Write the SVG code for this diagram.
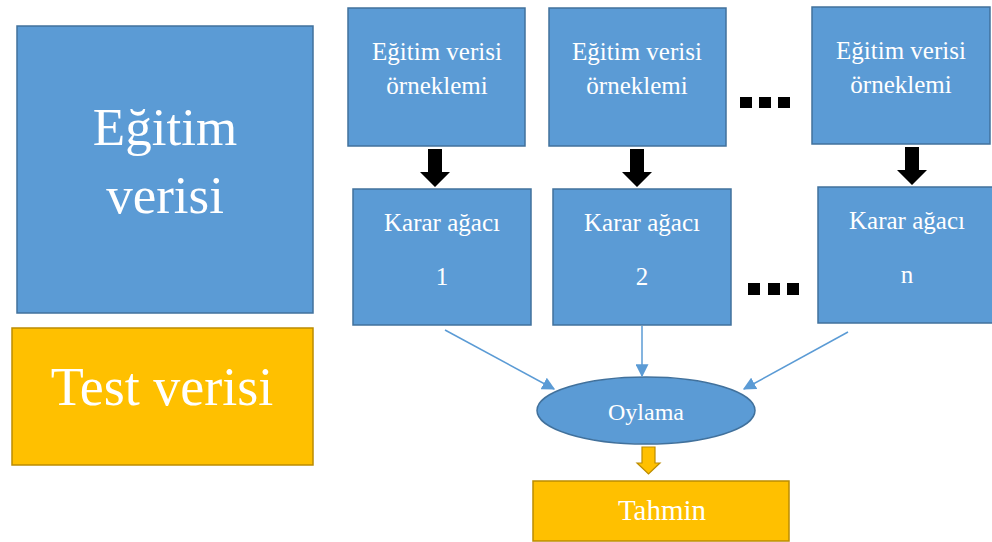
<svg xmlns="http://www.w3.org/2000/svg" width="992" height="542" viewBox="0 0 992 542">
  <style>
    .blue { fill: #5B9BD5; stroke: #41719C; stroke-width: 1.5; }
    .gold { fill: #FFC000; stroke: #BC8C00; stroke-width: 1.5; }
    .lbl { font-family: "Liberation Serif", "Times New Roman", serif; fill: #FFFFFF; text-anchor: middle; }
    .thin { stroke: #5B9BD5; stroke-width: 1.5; fill: none; marker-end: url(#tri); }
  </style>
  <defs>
    <marker id="tri" viewBox="0 0 10 10" refX="9" refY="5" markerWidth="13" markerHeight="13" markerUnits="userSpaceOnUse" orient="auto">
      <path d="M0,0 L10,5 L0,10 Z" fill="#5B9BD5"/>
    </marker>
  </defs>
  <rect width="992" height="542" fill="#FFFFFF"/>

  <!-- training data -->
  <g id="egitim-verisi">
    <rect class="blue" x="17" y="26" width="296" height="287"/>
    <text class="lbl" x="165" y="145" font-size="53">Eğitim</text>
    <text class="lbl" x="165" y="213" font-size="53">verisi</text>
  </g>

  <!-- test data -->
  <g id="test-verisi">
    <rect class="gold" x="12" y="328" width="301" height="137"/>
    <text class="lbl" x="162" y="405" font-size="54">Test verisi</text>
  </g>

  <!-- bootstrap samples -->
  <g id="ornek-1">
    <rect class="blue" x="348" y="8" width="177" height="138"/>
    <text class="lbl" x="437" y="60" font-size="25">Eğitim verisi</text>
    <text class="lbl" x="437" y="94" font-size="25">örneklemi</text>
  </g>
  <g id="ornek-2">
    <rect class="blue" x="549" y="8" width="177" height="138"/>
    <text class="lbl" x="637" y="60" font-size="25">Eğitim verisi</text>
    <text class="lbl" x="637" y="94" font-size="25">örneklemi</text>
  </g>
  <g id="ornek-n">
    <rect class="blue" x="812" y="7" width="178" height="137"/>
    <text class="lbl" x="901" y="59" font-size="25">Eğitim verisi</text>
    <text class="lbl" x="901" y="93" font-size="25">örneklemi</text>
  </g>

  <!-- decision trees -->
  <g id="agac-1">
    <rect class="blue" x="353" y="189" width="178" height="136"/>
    <text class="lbl" x="442" y="231" font-size="25">Karar ağacı</text>
    <text class="lbl" x="442" y="285" font-size="25">1</text>
  </g>
  <g id="agac-2">
    <rect class="blue" x="553" y="189" width="178" height="136"/>
    <text class="lbl" x="642" y="231" font-size="25">Karar ağacı</text>
    <text class="lbl" x="642" y="285" font-size="25">2</text>
  </g>
  <g id="agac-n">
    <rect class="blue" x="818" y="187" width="176" height="136"/>
    <text class="lbl" x="907" y="229" font-size="25">Karar ağacı</text>
    <text class="lbl" x="907" y="283" font-size="25">n</text>
  </g>

  <!-- ellipsis marks -->
  <g id="noktalar-ust" fill="#000000">
    <rect x="740" y="97" width="12" height="11"/>
    <rect x="759" y="97" width="12" height="11"/>
    <rect x="778" y="97" width="12" height="11"/>
  </g>
  <g id="noktalar-alt" fill="#000000">
    <rect x="748" y="283" width="12" height="12"/>
    <rect x="768" y="283" width="12" height="12"/>
    <rect x="787" y="283" width="12" height="12"/>
  </g>

  <!-- voting -->
  <g id="oylama">
    <ellipse class="blue" cx="646" cy="410.5" rx="109" ry="33.5"/>
    <text class="lbl" x="646" y="420" font-size="24">Oylama</text>
  </g>

  <!-- prediction -->
  <g id="tahmin">
    <rect class="gold" x="533" y="481" width="256" height="60"/>
    <text class="lbl" x="662" y="520" font-size="29">Tahmin</text>
  </g>

  <g id="baglantilar">
    <!-- sample to tree -->
    <path d="M428,149 H442 V172 H450 L435,187 L420,172 H428 Z" fill="#000000"/>
    <path d="M630,149 H644 V172 H652 L637,187 L622,172 H630 Z" fill="#000000"/>
    <path d="M905,147 H919 V170 H927 L912,185 L897,170 H905 Z" fill="#000000"/>
    <!-- trees to voting -->
    <line class="thin" x1="445" y1="330" x2="554" y2="389"/>
    <line class="thin" x1="642" y1="326" x2="642" y2="376"/>
    <line class="thin" x1="848" y1="332" x2="744" y2="389"/>
    <!-- voting to prediction -->
    <path d="M642,447 H655 V463 H660 L648.5,474 L637,463 H642 Z" fill="#FFC000" stroke="#BC8C00" stroke-width="1.2"/>
  </g>
</svg>
